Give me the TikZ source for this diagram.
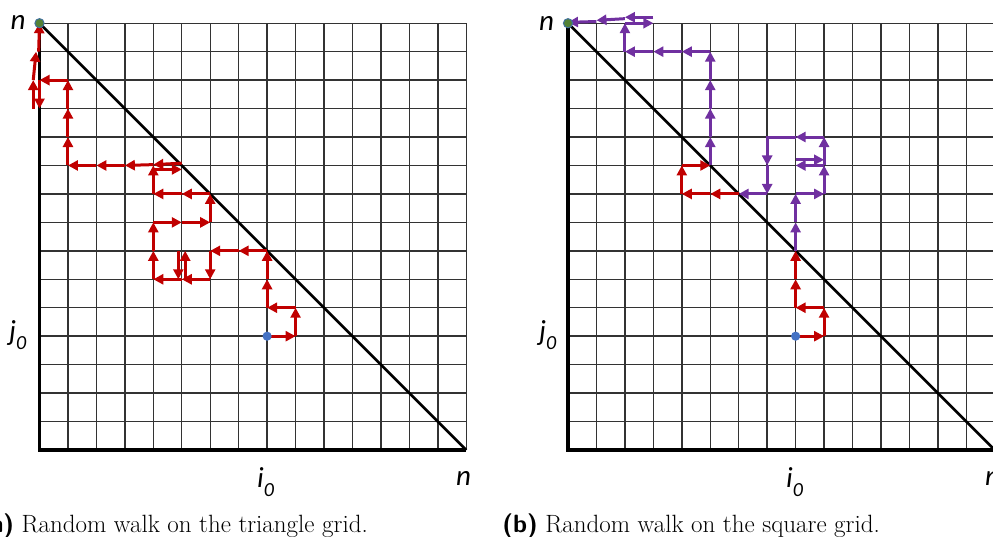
\documentclass[tikz,border=0pt]{standalone}
\usepackage{fontspec}
\newfontfamily\labfont{Carlito}
\usetikzlibrary{arrows.meta}
\definecolor{wred}{RGB}{192,0,0}
\definecolor{wpurple}{RGB}{112,48,160}
\definecolor{dotblue}{RGB}{68,114,196}
\definecolor{dotgreen}{RGB}{84,130,53}
\definecolor{dotedge}{RGB}{65,113,156}
\tikzset{
  gridline/.style={black!80, line width=1.4pt},
  axisline/.style={black, line width=3.5pt},
  diagline/.style={black, line width=2.6pt},
  rstep/.style={wred, line width=3pt, -{Triangle[length=10pt,width=10pt]}},
  pstep/.style={wpurple, line width=3pt, -{Triangle[length=10pt,width=10pt]}},
  pplain/.style={wpurple, line width=3pt},
  lab/.style={inner sep=0pt, font=\labfont\itshape\fontsize{29}{32}\selectfont},
  captext/.style={inner sep=0pt, font=\fontsize{25}{30}\selectfont},
  startdot/.style={fill=dotblue},
  enddot/.style={fill=dotgreen, draw=dotedge, line width=1pt},
}
\newcommand{\subz}{\raisebox{-0.32em}{\fontsize{20}{22}\selectfont 0}}
\begin{document}
\begin{tikzpicture}
\clip (0,0) rectangle (993pt,536pt);
% ---------------- panel (a) ----------------
\begin{scope}[shift={(39.5pt,86pt)}, x=1cm, y=1cm]
  \foreach \k in {0,...,15} {
    \draw[gridline] (\k,0) -- (\k,15);
    \draw[gridline] (0,\k) -- (15,\k);
  }
  \draw[axisline] (0,15) -- (0,0) -- (15,0);
  \draw[diagline] (0,15) -- (15,0);
  \draw[rstep] (8,4) -- (9,4);
  \draw[rstep] (9,4) -- (9,5);
  \draw[rstep] (9,5) -- (8,5);
  \draw[rstep] (8,5) -- (8,6);
  \draw[rstep] (8,6) -- (8,7);
  \draw[rstep] (8,7) -- (7,7);
  \draw[rstep] (7,7) -- (6,7);
  \draw[rstep] (6,7) -- (6,6);
  \draw[rstep] (6,6) -- (5,6);
  \draw[rstep] (5.12,6) -- (5.12,7);
  \draw[rstep] (4.88,7) -- (4.88,6);
  \draw[rstep] (5,6) -- (4,6);
  \draw[rstep] (4,6) -- (4,7);
  \draw[rstep] (4,7) -- (4,8);
  \draw[rstep] (4,8) -- (5,8);
  \draw[rstep] (5,8) -- (6,8);
  \draw[rstep] (6,8) -- (6,9);
  \draw[rstep] (6,9) -- (5,9);
  \draw[rstep] (5,9) -- (4,9);
  \draw[rstep] (4,9) -- (4,10);
  \draw[rstep] (4,9.86) -- (5,9.86);
  \draw[rstep] (5,10.08) -- (4,10.03);
  \draw[rstep] (4,10.03) -- (3,10);
  \draw[rstep] (3,10) -- (2,10);
  \draw[rstep] (2,10) -- (1,10);
  \draw[rstep] (1,10) -- (1,11);
  \draw[rstep] (1,11) -- (1,12);
  \draw[rstep] (1,12) -- (1,13);
  \draw[rstep] (1,13) -- (0,13);
  \draw[rstep] (0,13) -- (0,12);
  \draw[rstep] (-0.22,12) -- (-0.22,13);
  \draw[rstep] (-0.22,13) -- (-0.12,14);
  \draw[rstep] (-0.03,14) -- (0,15);
  \path[startdot] (8,4) coordinate (La) circle (4.6pt);
  \path[enddot] (0,15) coordinate (Lb) circle (4.6pt);
\end{scope}
% ---------------- panel (b) ----------------
\begin{scope}[shift={(568pt,86pt)}, x=1cm, y=1cm]
  \foreach \k in {0,...,15} {
    \draw[gridline] (\k,0) -- (\k,15);
    \draw[gridline] (0,\k) -- (15,\k);
  }
  \draw[axisline] (0,15) -- (0,0) -- (15,0);
  \draw[diagline] (0,15) -- (15,0);
  \draw[rstep] (8,4) -- (9,4);
  \draw[rstep] (9,4) -- (9,5);
  \draw[rstep] (9,5) -- (8,5);
  \draw[rstep] (8,5) -- (8,6);
  \draw[rstep] (8,6) -- (8,7);
  \draw[pstep] (8,7) -- (8,8);
  \draw[pstep] (8,8) -- (8,9);
  \draw[pstep] (8,9) -- (9,9);
  \draw[pstep] (9,9) -- (9,10);
  \draw[pstep] (9,10) -- (8,10);
  \draw[pstep] (8,10.2) -- (9,10.2);
  \draw[pstep] (9,10) -- (9,11);
  \draw[pstep] (9,11) -- (8,11);
  \draw[pplain] (8,11) -- (6.95,11);
  \draw[pstep] (7,11) -- (7,10);
  \draw[pstep] (7,10) -- (7,9);
  \draw[pstep] (7,9) -- (6,9);
  \draw[rstep] (6,9) -- (5,9);
  \draw[rstep] (5,9) -- (4,9);
  \draw[rstep] (4,9) -- (4,10);
  \draw[rstep] (4,10) -- (5,10);
  \draw[pstep] (5,10) -- (5,11);
  \draw[pstep] (5,11) -- (5,12);
  \draw[pstep] (5,12) -- (5,13);
  \draw[pstep] (5,13) -- (5,14);
  \draw[pstep] (5,14) -- (4,14);
  \draw[pstep] (4,14) -- (3,14);
  \draw[pstep] (3,14) -- (2,14);
  \draw[pstep] (2,14) -- (2,15);
  \draw[pstep] (2,15) -- (3,15);
  \draw[pstep] (3,15.21) -- (2,15.21);
  \draw[pstep] (2,15.16) -- (1,15.1);
  \draw[pstep] (1,15.06) -- (0,15.03);
  \path[startdot] (8,4) coordinate (Ra) circle (4.6pt);
  \path[enddot] (0,15) coordinate (Rb) circle (4.6pt);
\end{scope}
% ---------------- labels ----------------
\node[lab] (nLt) at (18pt,513.5pt) {n};
\node[lab, anchor=base west] (jL) at (9pt,195.5pt) {j\subz};
\node[lab, anchor=base west] (iL) at (257pt,49pt) {i\subz};
\node[lab, anchor=base west] (nLb) at (456pt,51pt) {n};
\node[lab] (nRt) at (546.5pt,512.5pt) {n};
\node[lab, anchor=base west] (jR) at (539pt,195.5pt) {j\subz};
\node[lab, anchor=base west] (iR) at (786pt,49pt) {i\subz};
\node[lab, anchor=base west] (nRb) at (985pt,51pt) {n};
% ---------------- captions ----------------
\node[captext, anchor=base east] (capA) at (368pt,3.3pt) {{\sffamily\bfseries (a)} Random walk on the triangle grid.};
\node[captext, anchor=base east] (capB) at (880pt,3.3pt) {{\sffamily\bfseries (b)} Random walk on the square grid.};
\end{tikzpicture}
\end{document}
